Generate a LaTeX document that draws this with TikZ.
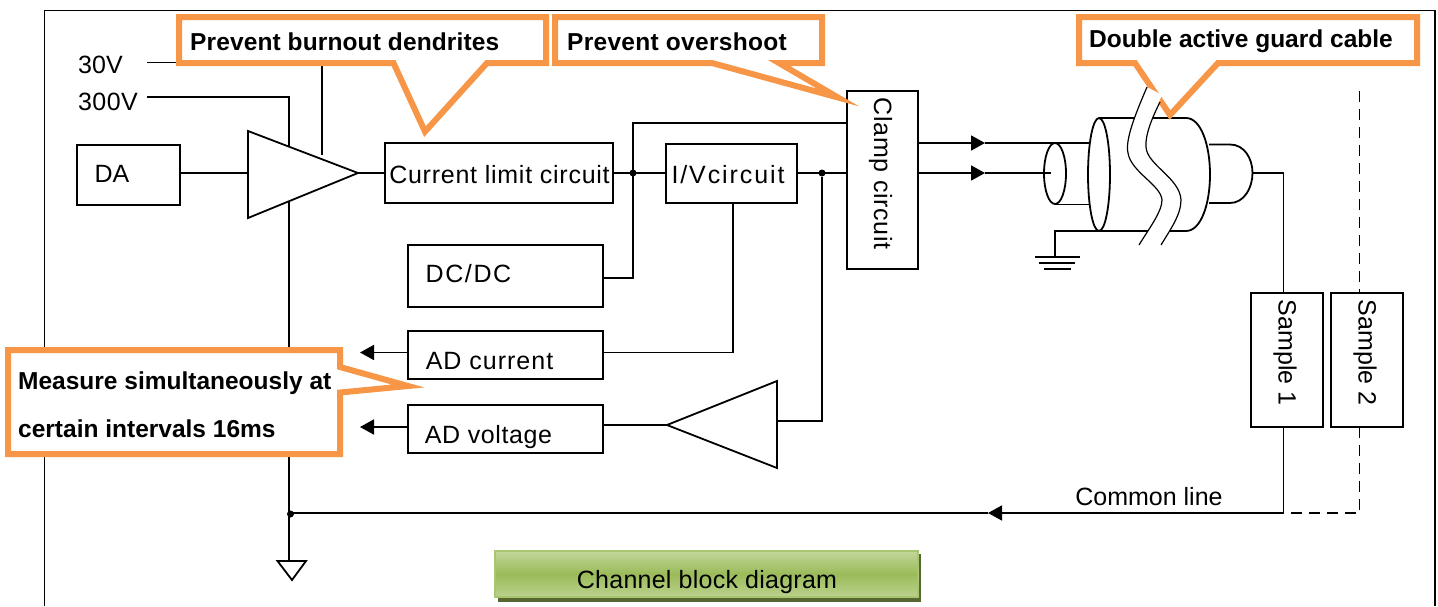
\documentclass[tikz,border=0pt]{standalone}
\usepackage{fontspec}
\setmainfont{Liberation Sans}
\usetikzlibrary{arrows.meta}
\definecolor{callorange}{HTML}{F79646}
\definecolor{shadowgreen}{HTML}{56682F}
\definecolor{edgegreen}{HTML}{A8C570}
\definecolor{gradtop}{HTML}{C2D69B}
\definecolor{gradmid}{HTML}{9BBB59}
\definecolor{gradbot}{HTML}{BBD28E}
\newcommand\lspaced[2]{{\addfontfeature{LetterSpace=#1}#2}}
\tikzset{
  wire/.style={line width=1.8pt,line join=miter},
  thinwire/.style={line width=1.2pt},
  dashwire/.style={line width=1.8pt,dash pattern=on 11pt off 7pt},
  arrowwire/.style={line width=1.8pt,-{Triangle[length=14pt,width=15pt]}},
  box/.style={draw,line width=1.8pt,fill=white,inner sep=0pt,outer sep=0pt,font=\fontsize{25}{28}\selectfont},
  lab/.style={inner sep=0pt,font=\fontsize{25}{28}\selectfont},
  calltext/.style={inner sep=0pt,font=\fontsize{24.5}{28}\selectfont\bfseries},
  callout/.style={draw=callorange,line width=6pt,fill=white,line join=miter,miter limit=20},
  dotj/.style={circle,fill=black,minimum size=7pt,inner sep=0pt,outer sep=0pt},
}
\begin{document}
\begin{tikzpicture}[x=1pt,y=-1pt]
\useasboundingbox (0,0) rectangle (1438,606);
% frame
\coordinate (fbl) at (44.5,606);
\coordinate (ftl) at (44.5,10.5);
\coordinate (ftr) at (1435,10.5);
\coordinate (fbr) at (1435,606);
\draw[wire] (fbl) -- (ftl) -- (ftr) -- (fbr);

% supply labels and lines
\node[lab,anchor=west] (v30) at (78,65) {30V};
\node[lab,anchor=west] (v300) at (78,101.5) {\lspaced{1.5}{300V}};
\coordinate (v30s) at (147,62.5);
\coordinate (v30c) at (322,62.5);
\coordinate (v30e) at (322,155);
\coordinate (v300s) at (147,97);
\coordinate (v300c) at (289,97);
\coordinate (gnd) at (289,561);
\draw[wire] (v30s) -- (v30c) -- (v30e);
\draw[wire] (v300s) -- (v300c) -- (gnd);
\draw[wire] (277.5,561) -- (306,561) -- (292,580) -- cycle;

% amplifier 1
\coordinate (ampin) at (248,173);
\coordinate (ampout) at (358,173);
\draw[wire,fill=white] (248,131) -- (ampout) -- (248,218) -- cycle;

% boxes
\node[box,minimum width=103pt,minimum height=60pt,label={[lab,xshift=-16.5pt,yshift=1.5pt]center:DA}] (da) at (128.5,175) {};
\node[box,minimum width=228pt,minimum height=60pt,label={[lab,xshift=0.5pt,yshift=-1.5pt]center:\lspaced{3}{Current limit circuit}}] (cur) at (499,173) {};
\node[box,minimum width=131pt,minimum height=59pt,label={[lab,xshift=-3.5pt,yshift=-1pt]center:\lspaced{7.6}{I/Vcircuit}}] (iv) at (731.5,173.5) {};
\node[box,minimum width=195pt,minimum height=62pt,label={[lab,xshift=-37pt,yshift=2pt]center:\lspaced{6.4}{DC/DC}}] (dcdc) at (505.5,276) {};
\node[box,minimum width=195pt,minimum height=48pt,label={[lab,xshift=-16pt,yshift=-6pt]center:\lspaced{4}{AD current}}] (adi) at (505.5,355) {};
\node[box,minimum width=195pt,minimum height=48pt,label={[lab,xshift=-17pt,yshift=-8pt]center:\lspaced{2.4}{AD voltage}}] (adv) at (505.5,429) {};
\node[box,minimum width=71pt,minimum height=178pt,label={[lab,xshift=-2pt,yshift=6.5pt,rotate=-90]center:\lspaced{2.8}{Clamp circuit}}] (clamp) at (882.5,180) {};

% amp connections
\draw[wire] (da.east |- ampin) -- (ampin);
\draw[wire] (ampout) -- (cur.west |- ampout);

% junctions
\node[dotj] (j1) at (633,173) {};
\node[dotj] (j2) at (822,173) {};
\coordinate (cltop) at (633,123);
\coordinate (dcj) at (633,278);
\draw[wire] (cur.east |- j1) -- (iv.west |- j1);
\draw[wire] (clamp.west |- cltop) -- (cltop) -- (dcj) -- (dcdc.east |- dcj);
\draw[wire] (iv.east |- j2) -- (clamp.west |- j2);

% I/V to AD current
\coordinate (ivb) at (733,352.5);
\draw[wire] (iv.south -| ivb) -- (ivb) -- (adi.east |- ivb);

% amplifier 2
\coordinate (amp2out) at (667,425);
\coordinate (amp2in) at (777,421);
\draw[wire,fill=white] (777,381) -- (amp2out) -- (777,468) -- cycle;
\draw[wire] (j2) -- (822,421) -- (amp2in);
\draw[wire] (amp2out) -- (adv.east |- amp2out);

% AD arrows
\coordinate (adit) at (360,352.5);
\coordinate (advt) at (360,427);
\draw[arrowwire] (adi.west |- adit) -- (adit);
\draw[arrowwire] (adv.west |- advt) -- (advt);

% clamp to cable
\coordinate (c1) at (1089.5,143);
\coordinate (c2) at (1051,173);
\coordinate (a1) at (985,143);
\coordinate (a2) at (985,173);
\draw[wire] (a1) -- (c1);
\draw[wire] (a2) -- (c2);
\draw[arrowwire] (clamp.east |- a1) -- (a1);
\draw[arrowwire] (clamp.east |- a2) -- (a2);

% cable
\draw[wire] (1055,204.5) -- (1089.5,204.5);
\draw[wire] (1055,173.5) ellipse [x radius=11,y radius=30.5];
\draw[wire] (1099,118) -- (1186,118) .. controls (1201,118) and (1210,145) .. (1210,174.5)
   .. controls (1210,204) and (1201,231) .. (1186,231) -- (1099,231);
\draw[wire] (1099,174.5) ellipse [x radius=11,y radius=56.5];
\draw[wire] (1209,144.5) -- (1230,144.5) .. controls (1244,144.5) and (1252.5,158) .. (1252.5,173)
   .. controls (1252.5,188) and (1244,203) .. (1230,203) -- (1209,203);
% ground
\coordinate (gc) at (1055,231);
\coordinate (gb) at (1055,257);
\draw[wire] (1099,231) -- (gc) -- (gb);
\draw[wire] (1035,257) -- (1080,257);
\draw[wire] (1039,263) -- (1075,263);
\draw[wire] (1044,269) -- (1071,269);

% samples
\node[box,minimum width=72pt,minimum height=134pt,label={[lab,xshift=-2pt,yshift=7.5pt,rotate=-90]center:Sample 1}] (s1) at (1287,360) {};
\node[box,minimum width=72pt,minimum height=134pt,label={[lab,xshift=-2pt,yshift=7.5pt,rotate=-90]center:Sample 2}] (s2) at (1367,360) {};
\coordinate (capout) at (1252.5,173);
\coordinate (s1top) at (1283.5,173);
\coordinate (cm1) at (1283.5,513);
\coordinate (cmarrow) at (988,513);
\node[dotj] (j3) at (290.5,514) {};
\draw[wire] (capout) -- (s1top) -- (s1.north -| s1top);
\draw[wire] (s1.south -| s1top) -- (cm1);
\draw[arrowwire] (cm1) -- (cmarrow);
\draw[wire] (cmarrow) -- (j3 |- cmarrow);
\coordinate (d1) at (1359.5,91);
\coordinate (d2) at (1359.5,513);
\draw[dashwire] (d1) -- (s2.north -| d1);
\draw[dashwire] (s2.south -| d1) -- (d2) -- (cm1);
\node[lab] (cl) at (1149,497) {Common line};

% callouts
\draw[callout] (179,17) -- (546,17) -- (546,63) -- (487,63) -- (425,131.6) -- (393.5,63) -- (179,63) -- cycle;
\node[calltext,anchor=west] (t1) at (190,41.5) {\lspaced{0.5}{Prevent burnout dendrites}};
\draw[callout] (555,17) -- (822,17) -- (822,63) -- (779,63) -- (838,97.5) -- (712,63) -- (555,63) -- cycle;
\node[calltext,anchor=west] (t2) at (567,41.5) {\lspaced{1.2}{Prevent overshoot}};
\draw[callout] (1079,17) -- (1417,17) -- (1417,63) -- (1218,63) -- (1170,115) -- (1135,63) -- (1079,63) -- cycle;
\node[calltext,anchor=west] (t3) at (1089,41) {Double active guard cable};
\draw[callout] (8,350) -- (340,350) -- (340,367) -- (408,386) -- (340,392.5) -- (340,454) -- (8,454) -- cycle;
\node[calltext,anchor=west,align=left] (t4) at (18,404.5) {Measure simultaneously at\\[20pt]certain intervals 16ms};

% cable break band
\fill[white] (1147,87) .. controls (1135,115) and (1125,140) .. (1128,153)
  .. controls (1131,172) and (1161,185) .. (1162,200)
  .. controls (1162,212) and (1148,230) .. (1139,245)
  -- (1161,245) .. controls (1170,230) and (1181,215) .. (1181,200)
  .. controls (1180,178) and (1147,165) .. (1146,147)
  .. controls (1145,135) and (1152,118) .. (1162,95) -- cycle;
\draw[thinwire] (1147,87) .. controls (1135,115) and (1125,140) .. (1128,153)
  .. controls (1131,172) and (1161,185) .. (1162,200)
  .. controls (1162,212) and (1148,230) .. (1139,245);
\draw[thinwire] (1160,102) .. controls (1152,118) and (1145,135) .. (1146,147)
  .. controls (1147,165) and (1180,178) .. (1181,200)
  .. controls (1181,215) and (1170,230) .. (1161,245);

% title plate
\fill[shadowgreen] (498,554) rectangle (921,602);
\shade[top color=gradtop,bottom color=gradbot,middle color=gradmid] (495,551) rectangle (918,597);
\draw[edgegreen,line width=1.5pt] (495,551) rectangle (918,597);
\node[lab] (title) at (707,582) {\lspaced{1}{Channel block diagram}};
\end{tikzpicture}
\end{document}
